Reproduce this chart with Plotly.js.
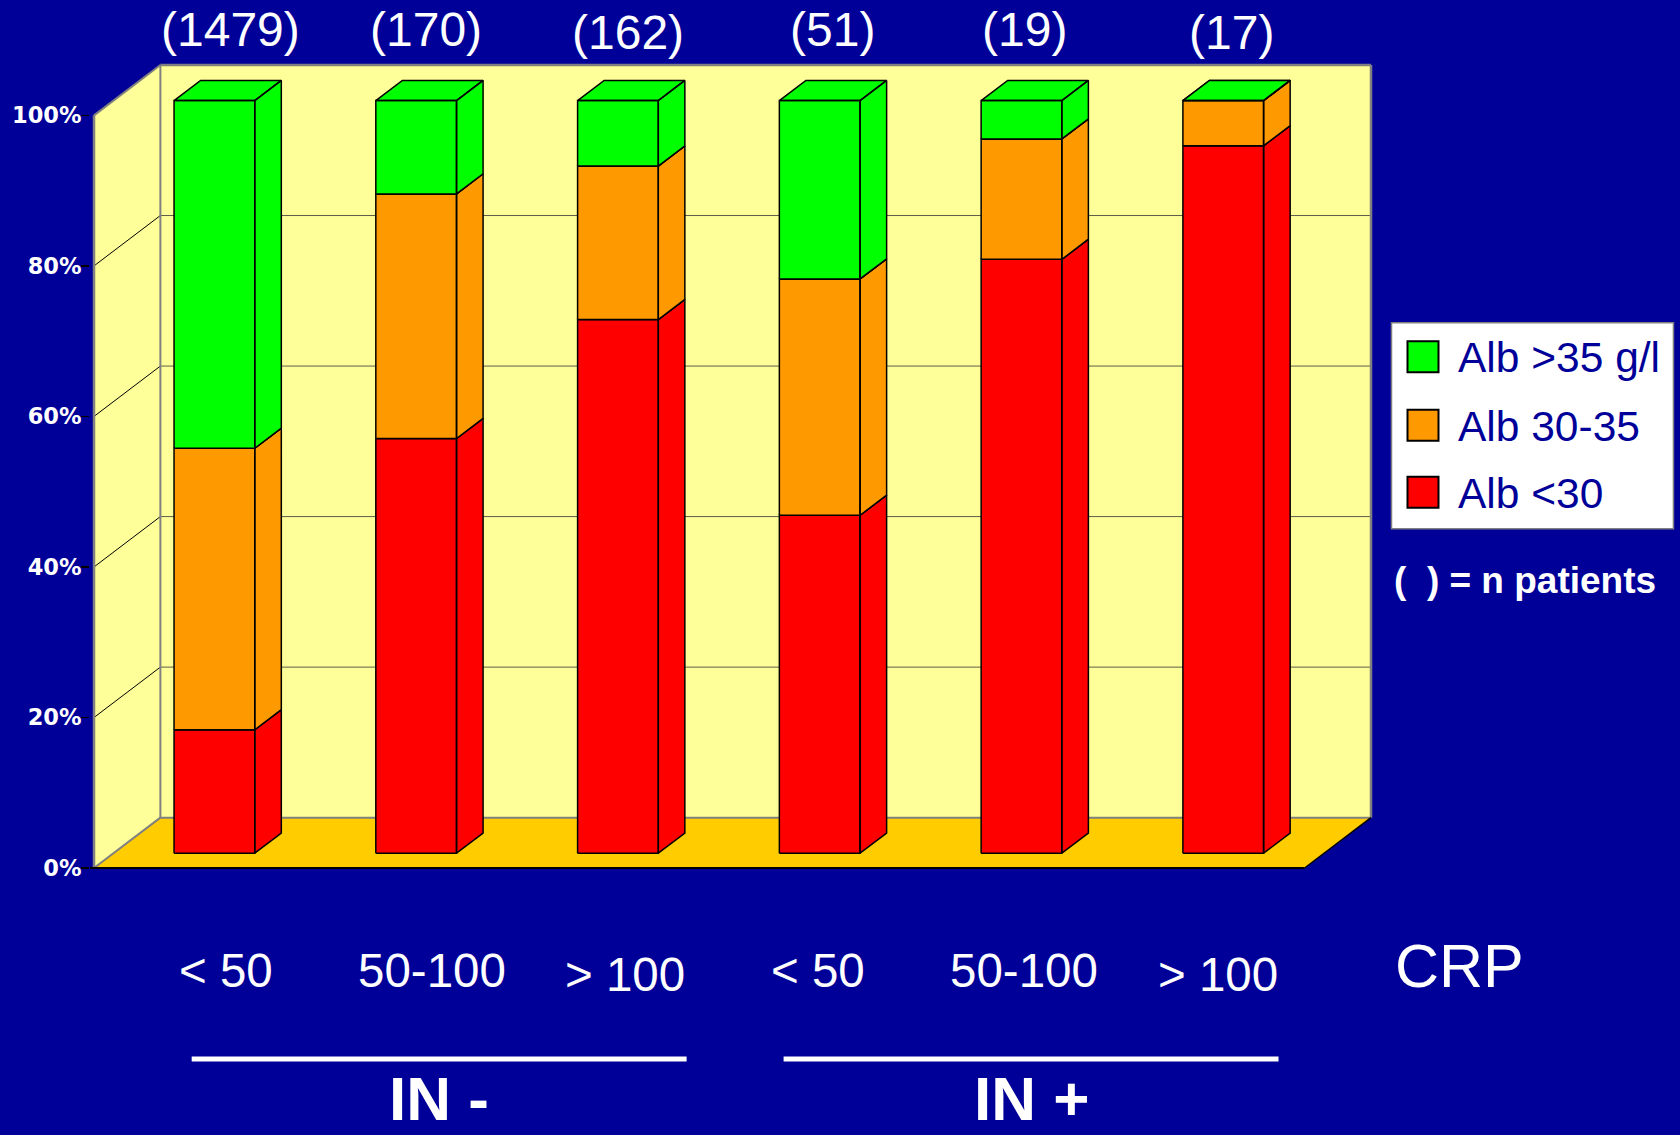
<!DOCTYPE html>
<html>
<head>
<meta charset="utf-8">
<script src="https://cdn.plot.ly/plotly-3.0.1.min.js"></script>
<style>html,body{margin:0;padding:0;background:#000099;}#chart{width:1680px;height:1135px;}</style>
</head>
<body>
<div id="chart"></div>
<script>
// ---- data ----
const categories = ['< 50', '50-100', '> 100', '< 50', '50-100', '> 100'];
const groupLabels = ['IN -', 'IN +'];
const nPatients = [1479, 170, 162, 51, 19, 17];
const albLow  = [16.4, 55.1, 70.9, 44.9, 78.9, 94.0];   // Alb <30
const albMid  = [37.4, 32.5, 20.4, 31.4, 16.0, 6.0];    // Alb 30-35
const albHigh = [46.2, 12.4, 8.7, 23.7, 5.1, 0.0];      // Alb >35 g/l
const seriesNames = ['Alb <30', 'Alb 30-35', 'Alb >35 g/l'];
const yTickVals = [0, 20, 40, 60, 80, 100];
const yTickLabels = ['0%', '20%', '40%', '60%', '80%', '100%'];
const axisTitle = 'CRP';
const noteText = '(\u00A0\u00A0) = n patients';

// ---- styling / geometry ----
const seriesColors = ['#FF0000', '#FF9900', '#00FF00'];
const BG = '#000099', WALL = '#FFFF99', FLOOR = '#FFCC00', EDGE = '#808080';
const W = 1680, H = 1135;
const DX = 0.329, DY = 6.69;        // depth offset (x units, % units)
const D0 = 0.294, D1 = 0.694;       // bar front/back depth
const BW = 0.4;                     // bar width (category = 1)
const NC = categories.length;
const PAD = 4;
const pxX = 201.8, pxY = 7.524;
const xr = [-PAD / pxX, NC + DX + PAD / pxX];
const yr = [-PAD / pxY, 100 + DY + PAD / pxY];
const ML = 94.3 - PAD, MT = 65.3 - PAD;
const plotW = (xr[1] - xr[0]) * pxX, plotH = (yr[1] - yr[0]) * pxY;
const MR = W - ML - plotW, MB = H - MT - plotH;
const px2x = p => (p - ML) / plotW;
const py2y = p => (H - MB - p) / plotH;
// label placement (layout only)
const nLabelDx = [0.175, 0.144, 0.145, 0.158, 0.112, 0.138];
const nLabelPy = [30, 30, 33, 30, 30, 33];
const catLabelDx = [0.156, 0.175, 0.133, 0.086, 0.111, 0.072];
const catLabelPy = [970.5, 970.5, 974.5, 970.5, 970.5, 974.5];

function P(x, d, y) { return [x + DX * d, y + DY * d]; }

// ---- bar traces (pseudo 3D stacked) ----
const series = [albLow, albMid, albHigh];
const traces = [];
series.forEach((vals, s) => {
  const xs = [], ys = [];
  const addPoly = pts => { pts.forEach(p => { xs.push(p[0]); ys.push(p[1]); }); xs.push(pts[0][0]); ys.push(pts[0][1]); xs.push(null); ys.push(null); };
  for (let i = 0; i < NC; i++) {
    let base = 0;
    for (let k = 0; k < s; k++) base += series[k][i];
    const top = base + vals[i];
    const xl = i + 0.5 - BW / 2, xrr = i + 0.5 + BW / 2;
    addPoly([P(xl, D0, base), P(xrr, D0, base), P(xrr, D0, top), P(xl, D0, top)]);   // front
    addPoly([P(xrr, D0, base), P(xrr, D1, base), P(xrr, D1, top), P(xrr, D0, top)]); // side
    addPoly([P(xl, D0, top), P(xrr, D0, top), P(xrr, D1, top), P(xl, D1, top)]);     // top
  }
  traces.push({
    type: 'scatter', mode: 'lines', name: seriesNames[s],
    x: xs, y: ys, fill: 'toself', fillcolor: seriesColors[s],
    line: { color: '#000000', width: 1.5 }, hoverinfo: 'skip', showlegend: false
  });
});

// ---- walls, floor, grid ----
const shapes = [];
const dshape = o => Object.assign({ xref: 'x', yref: 'y', layer: 'below' }, o);
shapes.push(dshape({ type: 'path', path: `M0,0 L${DX},${DY} L${DX},${100 + DY} L0,100 Z`, fillcolor: WALL, line: { width: 0 } }));
shapes.push(dshape({ type: 'rect', x0: DX, y0: DY, x1: NC + DX, y1: 100 + DY, fillcolor: WALL, line: { width: 0 } }));
shapes.push(dshape({ type: 'path', path: `M0,0 L${NC},0 L${NC + DX},${DY} L${DX},${DY} Z`, fillcolor: FLOOR, line: { width: 0 } }));
yTickVals.forEach(v => {
  if (v > 0 && v < 100) {
    shapes.push(dshape({ type: 'line', x0: DX, y0: v + DY, x1: NC + DX, y1: v + DY, line: { color: '#5e5e4a', width: 1 } }));
    shapes.push(dshape({ type: 'line', x0: 0, y0: v, x1: DX, y1: v + DY, line: { color: '#000000', width: 1 } }));
  }
});
const edge = (x0, y0, x1, y1, c, w) => shapes.push(dshape({ type: 'line', x0, y0, x1, y1, line: { color: c, width: w } }));
edge(DX, DY, DX, 100 + DY, EDGE, 2);
edge(DX, 100 + DY, NC + DX, 100 + DY, EDGE, 2.5);
edge(NC + DX, DY, NC + DX, 100 + DY, EDGE, 2.5);
edge(DX, DY, NC + DX, DY, EDGE, 2);
edge(0, 0, 0, 100, EDGE, 2.5);
edge(0, 100, DX, 100 + DY, EDGE, 2);
edge(0, 0, DX, DY, EDGE, 2);
edge(xr[0], 0, NC, 0, '#000000', 2);
edge(NC, 0, NC + DX, DY, '#000000', 1.5);

// ---- annotations ----
const FONT = 'Liberation Sans, Arial, sans-serif';
const annotations = [];
nPatients.forEach((n, i) => {
  annotations.push({ xref: 'x', yref: 'paper', x: i + 0.5 + nLabelDx[i], y: py2y(nLabelPy[i]), text: '(' + n + ')', showarrow: false,
    xanchor: 'center', yanchor: 'middle', font: { family: FONT, size: 48, color: '#FFFFFF' } });
});
categories.forEach((c, i) => {
  annotations.push({ xref: 'x', yref: 'paper', x: i + 0.5 + catLabelDx[i], y: py2y(catLabelPy[i]), text: c, showarrow: false,
    xanchor: 'center', yanchor: 'middle', font: { family: FONT, size: 47.5, color: '#FFFFFF' } });
});
annotations.push({ xref: 'paper', yref: 'paper', x: px2x(1460), y: py2y(966), text: axisTitle, showarrow: false,
  xanchor: 'center', yanchor: 'middle', font: { family: FONT, size: 61, color: '#FFFFFF' } });
const groupLines = [[192, 687], [784, 1279]];
groupLabels.forEach((g, k) => {
  const [a, b] = groupLines[k];
  shapes.push({ type: 'line', xref: 'paper', yref: 'paper', x0: px2x(a), x1: px2x(b), y0: py2y(1059), y1: py2y(1059), line: { color: '#FFFFFF', width: 5 } });
  annotations.push({ xref: 'paper', yref: 'paper', x: px2x((a + b) / 2), y: py2y(1098), text: g, showarrow: false,
    xanchor: 'center', yanchor: 'middle', font: { family: FONT, size: 62, color: '#FFFFFF', weight: 'bold' } });
});

// legend (drawn)
shapes.push({ type: 'rect', xref: 'paper', yref: 'paper', x0: px2x(1392), x1: px2x(1674), y0: py2y(529), y1: py2y(323),
  fillcolor: '#FFFFFF', line: { color: EDGE, width: 1.5 } });
const legendOrder = [2, 1, 0];
const legendRows = [357, 425.5, 492.5];
legendOrder.forEach((s, r) => {
  const cy = legendRows[r];
  shapes.push({ type: 'rect', xref: 'paper', yref: 'paper', x0: px2x(1408), x1: px2x(1439), y0: py2y(cy + 15.5), y1: py2y(cy - 15.5),
    fillcolor: seriesColors[s], line: { color: '#000000', width: 2 } });
  annotations.push({ xref: 'paper', yref: 'paper', x: px2x(1457), y: py2y(cy + 1), text: seriesNames[s], showarrow: false,
    xanchor: 'left', yanchor: 'middle', font: { family: FONT, size: 42.5, color: '#000099' } });
});
annotations.push({ xref: 'paper', yref: 'paper', x: px2x(1392), y: py2y(581), text: noteText, showarrow: false,
  xanchor: 'left', yanchor: 'middle', font: { family: FONT, size: 37, color: '#FFFFFF', weight: 'bold' } });

const layout = {
  width: W, height: H, autosize: false,
  paper_bgcolor: BG, plot_bgcolor: 'rgba(0,0,0,0)',
  margin: { l: ML, r: MR, t: MT, b: MB, pad: 0 },
  showlegend: false,
  xaxis: { range: xr, showgrid: false, zeroline: false, showticklabels: false, ticks: '', showline: false, fixedrange: true },
  yaxis: { range: yr, tickvals: yTickVals, ticktext: yTickLabels, showgrid: false, zeroline: false, showline: false,
    ticks: 'outside', ticklen: 8, tickwidth: 1.5, tickcolor: '#000000', ticklabelstandoff: -5,
    tickfont: { family: 'DejaVu Sans, Verdana, sans-serif', size: 22.5, color: '#FFFFFF', weight: 'bold' }, fixedrange: true },
  shapes, annotations
};

Plotly.newPlot('chart', traces, layout, { displayModeBar: false, staticPlot: true });
</script>
</body>
</html>
